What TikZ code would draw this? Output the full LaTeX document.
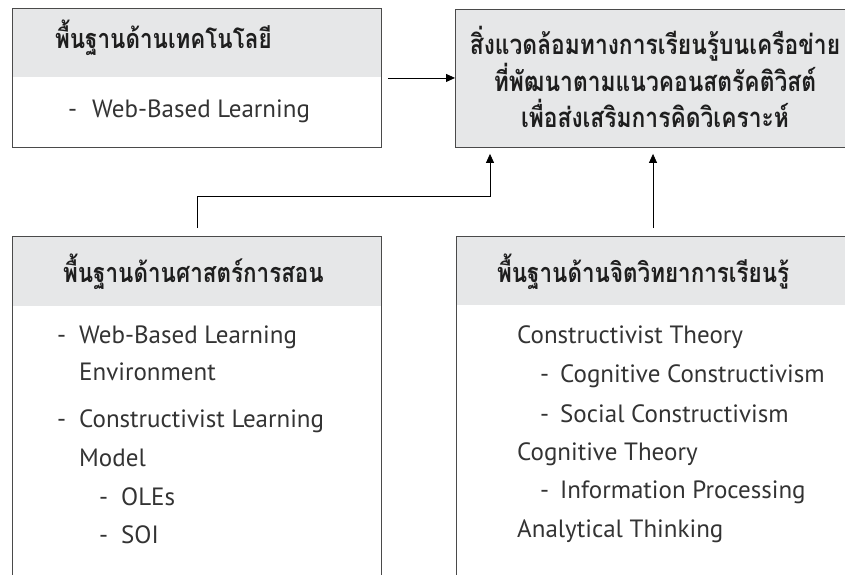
\documentclass[tikz,border=0pt]{standalone}
\usepackage{fontspec}
\setmainfont{PT Sans}
\newfontfamily\thaifont[Script=Thai,FakeStretch=0.83]{Loma}
\usetikzlibrary{arrows.meta}
\definecolor{hdr}{HTML}{E6E7E8}
\definecolor{edge}{HTML}{4A4A4A}
\definecolor{ink}{HTML}{333333}
\definecolor{headink}{HTML}{1E1E1E}
\begin{document}
\begin{tikzpicture}[x=1pt,y=-1pt,
  frame/.style={draw=edge, line width=0.9pt, inner sep=0pt, anchor=north west},
  thaihead/.style={font=\thaifont\bfseries\fontsize{27}{31}\selectfont, text=headink, inner sep=0pt, anchor=base west},
  thaititle/.style={font=\thaifont\bfseries\fontsize{27.5}{36}\selectfont, text=headink, inner sep=0pt, anchor=base, align=center},
  body/.style={font=\fontsize{25}{29}\selectfont, text=ink, inner sep=0pt, anchor=base west},
  arr/.style={draw=black, line width=0.8pt, -{Triangle[length=9pt,width=8pt]}}
]
\useasboundingbox (0,0) rectangle (845,574);
\begin{scope}
\clip (0,0) rectangle (845,574);
% header fills
\fill[hdr] (12,8) rectangle (381,77);
\fill[hdr] (455,9) rectangle (880,147);
\fill[hdr] (12,236) rectangle (381,306);
\fill[hdr] (456,236) rectangle (880,305);
% frames
\node[frame, minimum width=369pt, minimum height=139pt] (b1) at (12,8) {};
\node[frame, minimum width=425pt, minimum height=138pt] (b2) at (455,9) {};
\node[frame, minimum width=369pt, minimum height=400pt] (b3) at (12,236) {};
\node[frame, minimum width=424pt, minimum height=400pt] (b4) at (456,236) {};
\end{scope}

% box 1: technology
\node[thaihead] (h1) at (55,48) {พื้นฐานด้านเทคโนโลยี};
\node[body] (d1) at (68,117) {-};
\node[body] (l1) at (92,117) {Web-Based Learning};

% box 2: the learning environment
\node[thaititle] (h2a) at (655,54) {สิ่งแวดล้อมทางการเรียนรู้บนเครือข่าย};
\node[thaititle] (h2b) at (655,91) {ที่พัฒนาตามแนวคอนสตรัคติวิสต์};
\node[thaititle] (h2c) at (655,127) {เพื่อส่งเสริมการคิดวิเคราะห์};

% box 3: pedagogy
\node[thaihead] (h3) at (63,282) {พื้นฐานด้านศาสตร์การสอน};
\node[body] (d3a) at (57,343) {-};
\node[body] (l3a) at (79,343) {Web-Based Learning};
\node[body] (l3b) at (79,380) {Environment};
\node[body] (d3c) at (57,427) {-};
\node[body] (l3c) at (79,427) {Constructivist Learning};
\node[body] (l3d) at (79,466) {Model};
\node[body] (d3e) at (99,505) {-};
\node[body] (l3e) at (121,505) {OLEs};
\node[body] (d3f) at (99,543) {-};
\node[body] (l3f) at (121,543) {SOI};

% box 4: learning psychology
\node[thaihead] (h4) at (497,282) {พื้นฐานด้านจิตวิทยาการเรียนรู้};
\node[body] (l4a) at (517,343) {Constructivist Theory};
\node[body] (d4b) at (540,382) {-};
\node[body] (l4b) at (560,382) {Cognitive Constructivism};
\node[body] (d4c) at (540,422) {-};
\node[body] (l4c) at (560,422) {Social Constructivism};
\node[body] (l4d) at (517,460) {Cognitive Theory};
\node[body] (d4e) at (540,498) {-};
\node[body] (l4e) at (560,498) {Information Processing};
\node[body] (l4f) at (517,537) {Analytical Thinking};

% connectors
\coordinate (k2) at (490,196);
\coordinate (k3) at (653,196);
\draw[arr] ([xshift=6pt]b1.east) -- (b2.west |- b1.east);
\draw[arr] ([yshift=8pt]b3.north) |- (k2) -- ([yshift=-6pt]b2.south -| k2);
\draw[arr] ([yshift=8pt]b4.north -| k3) -- ([yshift=-6pt]b2.south -| k3);
\end{tikzpicture}
\end{document}
